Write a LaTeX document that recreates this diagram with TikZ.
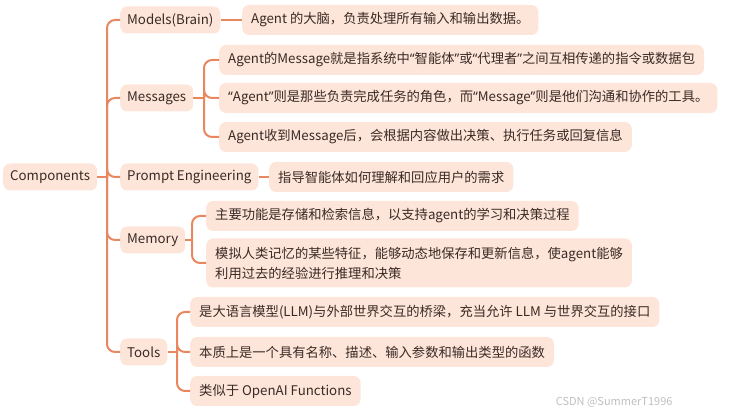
\documentclass[tikz,border=0pt]{standalone}
\usepackage{fontspec}
\setmainfont{Noto Sans CJK SC}
\newfontfamily\quotefont{Noto Sans}
\newcommand\qt[1]{{\quotefont“}#1{\quotefont”}}
\usetikzlibrary{positioning}
\definecolor{boxfill}{HTML}{FDE5DA}
\definecolor{linkcol}{HTML}{E98760}
\definecolor{txtcol}{HTML}{3B2A24}
\tikzset{
  topic/.style={fill=boxfill, rounded corners=7pt, inner xsep=7pt, inner ysep=0pt,
    minimum height=27pt, text=txtcol, anchor=west},
  leaf/.style={topic, minimum height=30pt, inner xsep=9pt},
  link/.style={draw=linkcol, line width=2pt, rounded corners=8pt},
}
\begin{document}
\begin{tikzpicture}[x=1pt, y=-1pt, font=\fontsize{13.3}{20}\selectfont]
  \useasboundingbox (0,0) rectangle (748,414);
  % main topics
  \node[topic] (comp) at (3,177) {Components};
  \node[topic] (models) at (120,20) {Models(Brain)};
  \node[topic] (msgs) at (120,98) {Messages};
  \node[topic] (prompt) at (120,177) {Prompt Engineering};
  \node[topic] (mem) at (120,240) {Memory};
  \node[topic] (tools) at (120,352) {Tools};
  % leaves
  \node[leaf] (brain) at (242,20) {Agent 的大脑，负责处理所有输入和输出数据。};
  \node[leaf] (msgA) at (219,60) {Agent的Message就是指系统中\qt{智能体}或\qt{代理者}之间互相传递的指令或数据包};
  \node[leaf] (msgB) at (219,98) {\qt{Agent}则是那些负责完成任务的角色，而\qt{Message}则是他们沟通和协作的工具。};
  \node[leaf] (msgC) at (219,137) {Agent收到Message后，会根据内容做出决策、执行任务或回复信息};
  \node[leaf] (guide) at (269,177) {指导智能体如何理解和回应用户的需求};
  \node[leaf] (memA) at (206,216) {主要功能是存储和检索信息，以支持agent的学习和决策过程};
  \node[leaf, minimum height=49pt, align=left, inner ysep=4pt] (memB) at (206,263)
    {模拟人类记忆的某些特征，能够动态地保存和更新信息，使agent能够\\利用过去的经验进行推理和决策};
  \node[leaf] (toolA) at (190,312) {是大语言模型(LLM)与外部世界交互的桥梁，充当允许 LLM 与世界交互的接口};
  \node[leaf] (toolB) at (190,352) {本质上是一个具有名称、描述、输入参数和输出类型的函数};
  \node[leaf] (toolC) at (190,391) {类似于 OpenAI Functions};
  % hubs
  \coordinate (hub) at (107,177);
  \coordinate (msgHub) at (204,98);
  \coordinate (memHub) at (192,240);
  \coordinate (toolHub) at (177,352);
  % links
  \draw[link] (comp.east) -- (hub);
  \foreach \t in {models,msgs,prompt,mem,tools}
    \draw[link] (hub) |- (\t.west);
  \draw[link] (models.east) -- (brain.west);
  \draw[link] (msgs.east) -- (msgHub);
  \foreach \t in {msgA,msgB,msgC}
    \draw[link] (msgHub) |- (\t.west);
  \draw[link] (prompt.east) -- (guide.west);
  \draw[link] (mem.east) -- (memHub);
  \foreach \t in {memA,memB}
    \draw[link] (memHub) |- (\t.west);
  \draw[link] (tools.east) -- (toolHub);
  \foreach \t in {toolA,toolB,toolC}
    \draw[link] (toolHub) |- (\t.west);
  % watermark
  \node[text=black!25, font=\fontsize{11}{13}\selectfont, anchor=east] (mark) at (676,402) {CSDN @SummerT1996};
\end{tikzpicture}
\end{document}
